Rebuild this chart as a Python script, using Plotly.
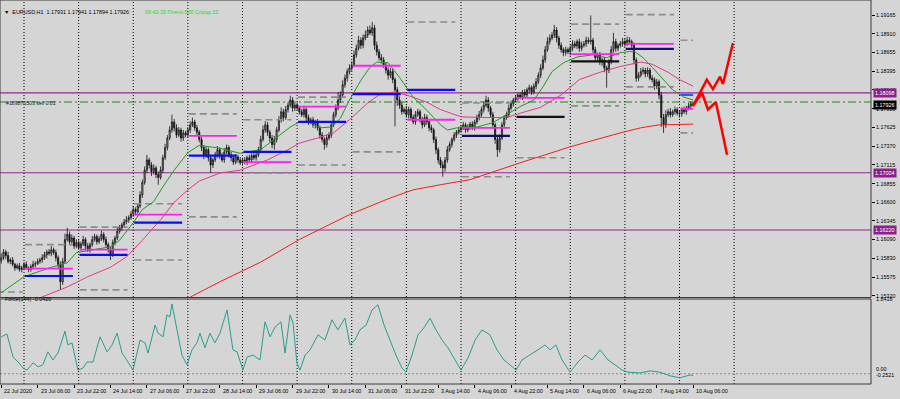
import plotly.graph_objects as go

# ------------------------------------------------------------------ data
# EURUSD H1 closes per trading day (bar 0 = 22 Jul 14:00)
first_open = 1.1580
close_jul22 = [1.1584, 1.1592, 1.1587, 1.1579, 1.1581, 1.1575, 1.1570, 1.1573, 1.1568, 1.1570]
close_jul23 = [1.1575, 1.1570, 1.1568, 1.1572, 1.1575, 1.1576, 1.1579, 1.1581, 1.1584, 1.1588, 1.1592, 1.1590,
               1.1595, 1.1591, 1.1584, 1.1575, 1.1551, 1.1579, 1.1609, 1.1616, 1.1606, 1.1611, 1.1600, 1.1605]
close_jul24 = [1.1598, 1.1603, 1.1609, 1.1600, 1.1595, 1.1602, 1.1609, 1.1613, 1.1606, 1.1610, 1.1616, 1.1609,
               1.1602, 1.1595, 1.1588, 1.1605, 1.1611, 1.1620, 1.1625, 1.1629, 1.1633, 1.1636, 1.1639, 1.1644]
close_jul27 = [1.1650, 1.1647, 1.1655, 1.1670, 1.1687, 1.1704, 1.1718, 1.1711, 1.1702, 1.1707, 1.1698, 1.1694,
               1.1704, 1.1721, 1.1735, 1.1748, 1.1759, 1.1770, 1.1762, 1.1752, 1.1759, 1.1748, 1.1755, 1.1752]
close_jul28 = [1.1759, 1.1766, 1.1770, 1.1762, 1.1756, 1.1746, 1.1735, 1.1725, 1.1732, 1.1721, 1.1711, 1.1718,
               1.1725, 1.1732, 1.1724, 1.1718, 1.1729, 1.1735, 1.1725, 1.1721, 1.1715, 1.1722, 1.1718, 1.1714]
close_jul29 = [1.1718, 1.1715, 1.1721, 1.1718, 1.1724, 1.1721, 1.1725, 1.1732, 1.1746, 1.1759, 1.1766, 1.1756,
               1.1748, 1.1739, 1.1746, 1.1759, 1.1773, 1.1784, 1.1776, 1.1787, 1.1793, 1.1800, 1.1789, 1.1793]
close_jul30 = [1.1789, 1.1784, 1.1780, 1.1787, 1.1776, 1.1770, 1.1773, 1.1766, 1.1770, 1.1762, 1.1752, 1.1746,
               1.1739, 1.1748, 1.1752, 1.1766, 1.1780, 1.1789, 1.1800, 1.1807, 1.1821, 1.1830, 1.1839, 1.1844]
close_jul31 = [1.1848, 1.1862, 1.1871, 1.1882, 1.1875, 1.1885, 1.1889, 1.1896, 1.1892, 1.1899, 1.1875, 1.1866,
               1.1858, 1.1855, 1.1848, 1.1841, 1.1834, 1.1839, 1.1828, 1.1814, 1.1800, 1.1793, 1.1784, 1.1787]
close_aug03 = [1.1780, 1.1787, 1.1776, 1.1770, 1.1780, 1.1784, 1.1773, 1.1766, 1.1776, 1.1770, 1.1762, 1.1759,
               1.1746, 1.1732, 1.1718, 1.1711, 1.1707, 1.1718, 1.1732, 1.1739, 1.1746, 1.1752, 1.1756, 1.1759]
close_aug04 = [1.1762, 1.1766, 1.1759, 1.1763, 1.1767, 1.1762, 1.1770, 1.1776, 1.1780, 1.1787, 1.1793, 1.1800,
               1.1789, 1.1780, 1.1766, 1.1746, 1.1732, 1.1748, 1.1766, 1.1776, 1.1780, 1.1789, 1.1795, 1.1800]
close_aug05 = [1.1803, 1.1807, 1.1804, 1.1811, 1.1807, 1.1814, 1.1817, 1.1811, 1.1819, 1.1825, 1.1834, 1.1844,
               1.1855, 1.1869, 1.1880, 1.1885, 1.1889, 1.1896, 1.1885, 1.1875, 1.1869, 1.1865, 1.1869, 1.1866]
close_aug06 = [1.1871, 1.1877, 1.1874, 1.1880, 1.1871, 1.1875, 1.1877, 1.1882, 1.1880, 1.1882, 1.1869, 1.1858,
               1.1862, 1.1852, 1.1855, 1.1844, 1.1841, 1.1852, 1.1869, 1.1880, 1.1871, 1.1875, 1.1877, 1.1880]
close_aug07 = [1.1877, 1.1882, 1.1880, 1.1875, 1.1855, 1.1830, 1.1834, 1.1839, 1.1841, 1.1836, 1.1841, 1.1830,
               1.1828, 1.1819, 1.1825, 1.1807, 1.1776, 1.1766, 1.1780, 1.1784, 1.1780, 1.1784, 1.1787, 1.1782]
close_aug10 = [1.1781, 1.1787, 1.1784, 1.1789, 1.1792, 1.1795, 1.1793]

# upper / lower shadow lengths in pips
up_jul22 = [6, 4, 3, 5, 3, 4, 2, 3, 4, 3]
dn_jul22 = [4, 3, 5, 3, 4, 3, 4, 2, 3, 4]
up_jul23 = [3, 4, 2, 3, 5, 3, 4, 3, 5, 4, 3, 4, 5, 3, 4, 3, 4, 5, 8, 9, 4, 5, 3, 4]
dn_jul23 = [3, 2, 4, 3, 3, 4, 2, 3, 4, 3, 5, 3, 4, 3, 5, 6, 11, 4, 3, 3, 5, 3, 4, 3]
up_jul24 = [4, 3, 5, 3, 4, 3, 5, 4, 3, 4, 5, 3, 4, 3, 4, 4, 3, 5, 4, 3, 4, 5, 3, 4]
dn_jul24 = [3, 4, 3, 4, 3, 4, 3, 3, 4, 3, 3, 4, 3, 4, 7, 3, 4, 3, 3, 4, 3, 3, 4, 3]
up_jul27 = [5, 3, 4, 5, 4, 5, 7, 3, 4, 5, 3, 4, 5, 4, 5, 4, 5, 10, 4, 5, 4, 3, 4, 3]
dn_jul27 = [4, 5, 3, 3, 4, 3, 4, 5, 6, 4, 5, 10, 3, 4, 3, 4, 3, 4, 5, 4, 3, 5, 4, 3]
up_jul28 = [4, 5, 6, 3, 4, 3, 4, 3, 4, 3, 4, 3, 4, 5, 3, 4, 5, 4, 3, 4, 3, 4, 3, 4]
dn_jul28 = [3, 4, 3, 4, 5, 4, 5, 6, 4, 5, 11, 4, 3, 4, 5, 3, 4, 3, 4, 5, 4, 3, 4, 3]
up_jul29 = [3, 4, 3, 4, 3, 4, 3, 4, 5, 6, 5, 4, 3, 4, 5, 4, 5, 6, 4, 5, 4, 6, 4, 3]
dn_jul29 = [4, 3, 4, 3, 4, 3, 4, 3, 4, 3, 4, 5, 6, 5, 7, 4, 3, 4, 5, 3, 4, 3, 5, 4]
up_jul30 = [4, 3, 4, 5, 3, 4, 3, 4, 3, 4, 3, 4, 3, 5, 4, 5, 4, 5, 11, 5, 6, 5, 4, 5]
dn_jul30 = [3, 4, 3, 4, 5, 4, 3, 4, 5, 4, 5, 4, 7, 4, 3, 4, 3, 4, 3, 4, 3, 4, 5, 4]
up_jul31 = [5, 6, 5, 6, 4, 5, 6, 5, 6, 8, 4, 5, 4, 5, 4, 3, 4, 5, 4, 3, 4, 5, 4, 3]
dn_jul31 = [4, 3, 4, 3, 5, 4, 3, 4, 3, 4, 6, 5, 4, 5, 4, 5, 6, 4, 5, 50, 8, 5, 4, 3]
up_aug03 = [5, 4, 3, 4, 5, 4, 3, 4, 5, 4, 3, 4, 3, 4, 3, 4, 5, 4, 5, 4, 3, 4, 3, 4]
dn_aug03 = [4, 5, 4, 3, 4, 3, 4, 5, 3, 4, 5, 4, 5, 6, 5, 4, 12, 5, 4, 3, 4, 3, 4, 3]
up_aug04 = [3, 4, 3, 4, 3, 4, 3, 4, 5, 4, 5, 6, 4, 3, 4, 3, 4, 5, 4, 3, 4, 5, 4, 3]
dn_aug04 = [4, 3, 4, 3, 4, 3, 4, 3, 4, 3, 4, 3, 5, 4, 5, 6, 10, 4, 3, 4, 3, 4, 3, 4]
up_aug05 = [4, 3, 4, 3, 4, 3, 4, 3, 4, 5, 4, 5, 6, 5, 6, 5, 4, 7, 4, 3, 4, 3, 4, 3]
dn_aug05 = [3, 4, 3, 4, 3, 4, 5, 4, 3, 4, 3, 4, 3, 4, 3, 4, 3, 4, 6, 5, 4, 5, 4, 3]
up_aug06 = [4, 5, 4, 3, 4, 5, 4, 5, 4, 34, 3, 4, 3, 4, 3, 4, 3, 4, 5, 12, 4, 3, 4, 5]
dn_aug06 = [5, 4, 3, 4, 5, 4, 3, 4, 3, 4, 5, 6, 5, 4, 5, 6, 24, 4, 3, 4, 5, 4, 3, 4]
up_aug07 = [4, 5, 4, 3, 4, 3, 4, 5, 4, 3, 4, 3, 4, 3, 4, 3, 4, 5, 6, 4, 5, 3, 4, 3]
dn_aug07 = [4, 3, 4, 5, 6, 5, 4, 3, 4, 5, 4, 3, 4, 5, 4, 6, 13, 11, 4, 3, 4, 3, 4, 3]
up_aug10 = [4, 3, 4, 3, 4, 3, 2]
dn_aug10 = [5, 4, 3, 4, 3, 4, 2]

# moving averages (bar, value)
green_bar = [0, 10, 21, 29, 33, 43, 48, 52, 58, 62, 67, 71, 76, 82, 87, 96, 105, 114, 121, 127, 131, 136, 140, 145,
             149, 153, 158, 162, 165, 170, 175, 181, 187, 193, 196, 202, 209, 216, 222, 228, 234, 238, 242, 247,
             253, 260, 266, 272, 278, 282, 286, 291, 295, 300, 304]
green_val = [1.1536, 1.1558, 1.1570, 1.1577, 1.1591, 1.1597, 1.1599, 1.1608, 1.1632, 1.1650, 1.1661, 1.1681,
             1.1704, 1.1728, 1.1738, 1.1734, 1.1727, 1.1732, 1.1749, 1.1763, 1.1770, 1.1769, 1.1762, 1.1763,
             1.1775, 1.1800, 1.1827, 1.1845, 1.1852, 1.1851, 1.1831, 1.1804, 1.1786, 1.1766, 1.1759, 1.1763,
             1.1763, 1.1769, 1.1780, 1.1791, 1.1800, 1.1818, 1.1839, 1.1851, 1.1859, 1.1862, 1.1858, 1.1865,
             1.1867, 1.1858, 1.1845, 1.1828, 1.1814, 1.1804, 1.1800]
pink_bar = [10, 17, 29, 38, 48, 55, 62, 70, 76, 82, 87, 96, 105, 117, 126, 131, 139, 146, 153, 161, 166, 172, 178,
            187, 193, 202, 213, 222, 228, 237, 246, 254, 263, 272, 281, 286, 293, 298, 304]
pink_val = [1.1518, 1.1529, 1.1544, 1.1558, 1.1571, 1.1585, 1.1608, 1.1636, 1.1660, 1.1677, 1.1689, 1.1700,
            1.1704, 1.1718, 1.1732, 1.1741, 1.1748, 1.1755, 1.1773, 1.1796, 1.1807, 1.1811, 1.1807, 1.1797,
            1.1787, 1.1777, 1.1776, 1.1776, 1.1782, 1.1790, 1.1807, 1.1828, 1.1838, 1.1846, 1.1852, 1.1849,
            1.1838, 1.1828, 1.1819]
red_bar = [76, 83, 96, 114, 131, 153, 171, 181, 193, 206, 228, 250, 272, 281, 289, 298, 304]
red_val = [1.1518, 1.1530, 1.1551, 1.1578, 1.1609, 1.1643, 1.1666, 1.1677, 1.1684, 1.1691, 1.1714, 1.1736,
           1.1755, 1.1762, 1.1766, 1.1767, 1.1767]

# daily levels: first bar of each day's segment and its level prices
level_start = [-12, 10, 34, 58, 82, 106, 130, 154, 178, 202, 226, 250, 274, 298]
level_magenta = [None, 1.1569, 1.1595, 1.1643, 1.1751, 1.1715, 1.1791, 1.1847, 1.1773, 1.1762, 1.1803, 1.1863,
                 1.1877, 1.1788]
level_pivot = [None, 1.1559, 1.1588, 1.1632, 1.1724, 1.1729, 1.1770, 1.1808, 1.1814, 1.1751, 1.1777, 1.1853,
               1.1870, 1.1807]
level_pivot_color = [None, "#0a0aff", "#0a0aff", "#0a0aff", "#0a0aff", "#0a0aff", "#0a0aff", "#0a0aff",
                     "#0a0aff", "#101060", "#111111", "#111111", "#101070", "#3355ff"]
level_dash_hi = [None, 1.1602, 1.1626, 1.1658, 1.1781, 1.1773, 1.1804, None, 1.1907, 1.1796, None, 1.1904,
                 1.1917, 1.1882]
level_dash_lo = [1.1537, None, 1.1540, 1.1581, 1.1640, 1.1700, 1.1711, 1.1729, None, 1.1695, 1.1721, 1.1792,
                 1.1818, 1.1755]

# horizontal price lines
purple_levels = [1.18098, 1.17004, 1.16220]
order_price = 1.17973
bid_price = 1.17926

# forecast zigzags (future bars)
fc_up_bar = [304, 310, 312.7, 315.8, 317.1, 321.5]
fc_up_val = [1.1792, 1.1828, 1.1815, 1.1832, 1.1822, 1.1878]
fc_dn_bar = [304, 307.9, 310.5, 314.0, 318.9]
fc_dn_val = [1.1792, 1.1810, 1.1787, 1.1797, 1.1725]

# Force index (144)
force_bar = [0, 2.5, 5.2, 7.4, 9.6, 11.3, 14.0, 16.2, 18.3, 20.5, 22.7, 24.9, 28.0, 29.3, 31.1, 32.4, 33.7, 35.9,
             37.7, 40.3, 43.4, 46.5, 48.7, 50.9, 53.1, 55.7, 57.9, 61.0, 63.2, 64.5, 67.6, 68.9, 71.1, 72.8, 74.1,
             75.0, 77.2, 79.4, 81.6, 83.8, 86.0, 87.3, 89.5, 91.7, 93.9, 96.1, 99.2, 101.8, 103.6, 106.2, 108.0,
             110.6, 113.7, 115.9, 118.1, 120.3, 122.9, 124.7, 126.9, 128.2, 129.9, 131.3, 133.5, 135.7, 139.2,
             142.2, 145.3, 147.9, 151.0, 153.2, 155.4, 157.6, 160.3, 162.9, 165.5, 168.2, 170.8, 173.4, 176.1,
             177.8, 180.5, 183.1, 185.7, 188.4, 191.0, 193.7, 196.3, 199.4, 202.0, 205.1, 208.2, 211.2, 214.7,
             217.8, 220.9, 223.5, 226.2, 228.8, 232.3, 235.8, 238.9, 241.1, 243.7, 246.4, 249.9, 253.4, 256.5,
             259.6, 263.1, 266.6, 269.7, 272.8, 275.4, 280.7, 285.0, 289.4, 293.8, 298.2, 302.6, 304]
force_val = [0.91, 0.98, 0.41, 0.29, 0.14, 0.09, 0.27, 0.17, 0.22, 0.54, 0.34, 0.51, 1.05, 0.71, 0.76, 0.41, 0.09,
             0.14, 0.29, 0.29, 0.91, 0.54, 0.71, 1.00, 0.51, 0.29, 0.09, 0.83, 0.76, 0.51, 1.20, 1.00, 0.91, 1.45,
             1.40, 1.72, 1.08, 0.46, 0.22, 0.59, 0.76, 1.00, 0.64, 1.00, 0.76, 1.00, 1.57, 0.59, 0.54, 0.09, 0.41,
             0.46, 0.34, 1.28, 0.91, 1.15, 1.28, 0.51, 1.45, 1.25, 0.27, 0.09, 0.46, 0.59, 0.96, 0.83, 1.33, 1.08,
             1.37, 0.71, 0.83, 1.08, 1.20, 1.57, 1.70, 1.20, 0.83, 0.46, 0.14, 0.04, 0.46, 0.96, 1.13, 1.37, 1.08,
             0.83, 0.64, 0.34, 0.09, 0.39, 0.83, 1.08, 0.96, 0.59, 0.34, 0.22, 0.09, 0.34, 0.46, 0.59, 0.71, 0.59,
             0.71, 0.34, 0.04, 0.29, 0.46, 0.34, 0.59, 0.34, 0.22, 0.09, 0.04, 0.02, 0.07, 0.04, -0.05, -0.10,
             -0.03, -0.04]

# axis labels
tick_bars = [0, 16, 32, 48, 64, 80, 96, 112, 128, 144, 160, 176, 192, 208, 224, 240, 256, 272, 288, 304]
tick_text = ["22 Jul 2020", "23 Jul 06:00", "23 Jul 22:00", "24 Jul 14:00", "27 Jul 06:00", "27 Jul 22:00",
             "28 Jul 14:00", "29 Jul 06:00", "29 Jul 22:00", "30 Jul 14:00", "31 Jul 06:00", "31 Jul 22:00",
             "3 Aug 14:00", "4 Aug 06:00", "4 Aug 22:00", "5 Aug 14:00", "6 Aug 06:00", "6 Aug 22:00",
             "7 Aug 14:00", "10 Aug 06:00"]
grid_bars = [10, 34, 58, 82, 106, 130, 154, 178, 202, 226, 250, 274, 298, 322]
price_ticks = [1.19165, 1.18910, 1.18655, 1.18395, 1.18140, 1.17880, 1.17625, 1.17370, 1.17115, 1.16855,
               1.16600, 1.16345, 1.16090, 1.15830, 1.15575, 1.15320]
force_top, force_bottom = 1.8418, -0.2521

# ------------------------------------------------------------------ build
close_days = [close_jul22, close_jul23, close_jul24, close_jul27, close_jul28, close_jul29, close_jul30,
              close_jul31, close_aug03, close_aug04, close_aug05, close_aug06, close_aug07, close_aug10]
up_days = [up_jul22, up_jul23, up_jul24, up_jul27, up_jul28, up_jul29, up_jul30, up_jul31, up_aug03, up_aug04,
           up_aug05, up_aug06, up_aug07, up_aug10]
dn_days = [dn_jul22, dn_jul23, dn_jul24, dn_jul27, dn_jul28, dn_jul29, dn_jul30, dn_jul31, dn_aug03, dn_aug04,
           dn_aug05, dn_aug06, dn_aug07, dn_aug10]
closes = [c for d in close_days for c in d]
ups = [u for d in up_days for u in d]
dns = [u for d in dn_days for u in d]
n = min(len(closes), len(ups), len(dns))
closes, ups, dns = closes[:n], ups[:n], dns[:n]
opens = [first_open] + closes[:-1]
highs = [max(o, c) + u * 1e-4 for o, c, u in zip(opens, closes, ups)]
lows = [min(o, c) - d * 1e-4 for o, c, d in zip(opens, closes, dns)]
bars = list(range(n))
last_bar = bars[-1]

W, H = 900, 399
ML, MR, MT, MB = 0, 29, 0, 15
PW, PH = W - ML - MR, H - MT - MB
main_top_px, main_bot_px = 2, 297.5
frc_top_px, frc_bot_px = 299, 384
main_dom = [1 - main_bot_px / PH, 1 - main_top_px / PH]
frc_dom = [1 - frc_bot_px / PH, 1 - frc_top_px / PH]
px_per_bar = 2.276
x0_px = 1.24
x_range = [(0 - x0_px) / px_per_bar, (PW - x0_px) / px_per_bar]
p_per_px = (1.19165 - 1.15320) / (295.7 - 15)
p_at0 = 1.19165 + 15 * p_per_px
y_range = [p_at0 - main_bot_px * p_per_px, p_at0 - main_top_px * p_per_px]

BG = "#d5d5d5"
FONT = "Liberation Sans, Arial, sans-serif"
FS = 5.4

fig = go.Figure()


def seg_xy(vals):
    xs, ys = [], []
    for s, v in zip(level_start, vals):
        if v is None:
            continue
        e = min(s + 21.5, last_bar)
        xs += [s + 0.4, e, None]
        ys += [v, v, None]
    return xs, ys


def seg_trace(vals, color, width, dash=None):
    xs, ys = seg_xy(vals)
    return go.Scatter(x=xs, y=ys, mode="lines", line=dict(color=color, width=width, dash=dash),
                      hoverinfo="skip", showlegend=False, yaxis="y")


fig.add_trace(seg_trace(level_dash_hi, "#8c8c8c", 1.6, "7px,4px"))
fig.add_trace(seg_trace(level_dash_lo, "#8c8c8c", 1.6, "7px,4px"))

# moving averages
fig.add_trace(go.Scatter(x=red_bar, y=red_val, mode="lines", line=dict(color="#f02020", width=1),
                         hoverinfo="skip", showlegend=False))
fig.add_trace(go.Scatter(x=pink_bar, y=pink_val, mode="lines", line=dict(color="#dd3c8c", width=1),
                         hoverinfo="skip", showlegend=False))
fig.add_trace(go.Scatter(x=green_bar, y=green_val, mode="lines", line=dict(color="#1f9a1f", width=1),
                         hoverinfo="skip", showlegend=False))

fig.add_trace(seg_trace(level_magenta, "#ff22ee", 1.8))
for s, v, col in zip(level_start, level_pivot, level_pivot_color):
    if v is None:
        continue
    e = min(s + 21.5, last_bar)
    fig.add_trace(go.Scatter(x=[s + 0.4, e], y=[v, v], mode="lines", line=dict(color=col, width=2.2),
                             hoverinfo="skip", showlegend=False))

# candles
fig.add_trace(go.Candlestick(
    x=bars, open=opens, high=highs, low=lows, close=closes,
    increasing=dict(line=dict(color="#111111", width=0.8), fillcolor="#a8a8a8"),
    decreasing=dict(line=dict(color="#111111", width=0.8), fillcolor="#111111"),
    whiskerwidth=0, hoverinfo="skip", showlegend=False, xaxis="x", yaxis="y"))

# forecast
fig.add_trace(go.Scatter(x=fc_up_bar, y=fc_up_val, mode="lines", line=dict(color="#ff0000", width=2.5),
                         hoverinfo="skip", showlegend=False))
fig.add_trace(go.Scatter(x=fc_dn_bar, y=fc_dn_val, mode="lines", line=dict(color="#ff0000", width=2.5),
                         hoverinfo="skip", showlegend=False))

# force index
fig.add_trace(go.Scatter(x=force_bar, y=force_val, mode="lines", line=dict(color="#2a9d90", width=1),
                         hoverinfo="skip", showlegend=False, yaxis="y2"))

shapes = []
for g in grid_bars:
    shapes.append(dict(type="line", xref="x", yref="paper", x0=g, x1=g, y0=0, y1=main_dom[1],
                       line=dict(color="#000000", width=1, dash="1px,2px"), layer="below"))
for lv in purple_levels:
    shapes.append(dict(type="line", xref="paper", yref="y", x0=0, x1=1, y0=lv, y1=lv,
                       line=dict(color="#8e2a8e", width=1.2), layer="below"))
shapes.append(dict(type="line", xref="paper", yref="y", x0=0, x1=1, y0=order_price, y1=order_price,
                   line=dict(color="#1a8c1a", width=1, dash="8px,3px,2px,3px"), layer="below"))
shapes.append(dict(type="line", xref="paper", yref="y2", x0=0, x1=1, y0=0, y1=0,
                   line=dict(color="#8a8a8a", width=1, dash="2px,2px"), layer="below"))
# panel borders
shapes.append(dict(type="rect", xref="paper", yref="paper", x0=0, x1=1, y0=main_dom[0], y1=1,
                   line=dict(color="#3a3a3a", width=1)))
shapes.append(dict(type="rect", xref="paper", yref="paper", x0=0, x1=1, y0=frc_dom[0], y1=frc_dom[1],
                   line=dict(color="#3a3a3a", width=1)))


def py(px):
    return 1 - px / PH


ann = []
for b, t in zip(tick_bars, tick_text):
    ann.append(dict(x=b, y=0, xref="x", yref="paper", text=t, showarrow=False, xanchor="left",
                    yanchor="top", yshift=-2, xshift=1, font=dict(family=FONT, size=FS, color="#000")))
# right-axis price boxes
for lv in purple_levels:
    ann.append(dict(x=1, y=lv, xref="paper", yref="y", text=f"{lv:.5f}", showarrow=False, xanchor="left",
                    xshift=2, bgcolor="#8b1f8b", font=dict(family=FONT, size=FS, color="#ffffff"), borderpad=1))
ann.append(dict(x=1, y=bid_price, xref="paper", yref="y", text=f"{bid_price:.5f}", showarrow=False,
                xanchor="left", xshift=2, bgcolor="#000000", font=dict(family=FONT, size=FS, color="#ffffff"),
                borderpad=1))
# force axis labels
for txt, ypx in [("1.8418", 303.5), ("0.00", 374), ("-0.2521", 380)]:
    ann.append(dict(x=1, y=py(ypx), xref="paper", yref="paper", text=txt, showarrow=False, xanchor="left",
                    xshift=3, font=dict(family=FONT, size=FS, color="#000")))
# texts inside chart
ann.append(dict(x=2 / PW, y=py(7), xref="paper", yref="paper",
                text="▼  EURUSD,H1  1.17931 1.17941 1.17894 1.17926",
                showarrow=False, xanchor="left", font=dict(family=FONT, size=FS, color="#000")))
ann.append(dict(x=143 / PW, y=py(7), xref="paper", yref="paper", text="06:42:35 Плечо:500 Спрэд:15",
                showarrow=False, xanchor="left", font=dict(family=FONT, size=FS, color="#22dd22")))
ann.append(dict(x=4 / PW, y=py(98), xref="paper", yref="paper", text="#189876503 sell 0.01",
                showarrow=False, xanchor="left", font=dict(family=FONT, size=FS - 0.2, color="#222")))
ann.append(dict(x=3 / PW, y=py(303.5), xref="paper", yref="paper", text="Force(144) -0.0420",
                showarrow=False, xanchor="left", font=dict(family=FONT, size=FS, color="#000")))

fig.update_layout(
    width=W, height=H, margin=dict(l=ML, r=MR, t=MT, b=MB),
    paper_bgcolor=BG, plot_bgcolor=BG, showlegend=False,
    xaxis=dict(range=x_range, domain=[0, 1], anchor="y2", showgrid=False, zeroline=False,
               showticklabels=False, ticks="outside", tickvals=tick_bars, ticklen=3, tickcolor="#000",
               rangeslider=dict(visible=False), fixedrange=True),
    yaxis=dict(domain=main_dom, range=y_range, side="right", showgrid=False, zeroline=False,
               tickvals=price_ticks, ticktext=[f"{v:.5f}" for v in price_ticks], ticks="outside",
               ticklen=3, tickcolor="#000", tickfont=dict(family=FONT, size=FS, color="#000"), anchor="x"),
    yaxis2=dict(domain=frc_dom, range=[force_bottom, force_top], side="right", showgrid=False,
                zeroline=False, showticklabels=False, anchor="x"),
    shapes=shapes, annotations=ann,
)

fig.write_html("out.html", config={"displayModeBar": False, "staticPlot": True},
               post_script="document.body.style.margin='0px';document.body.style.overflow='hidden';")
